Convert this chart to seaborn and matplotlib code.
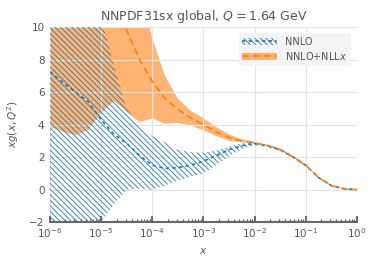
import numpy as np
import pandas as pd
import matplotlib
matplotlib.use("Agg")
import matplotlib.pyplot as plt
import matplotlib.ticker as mticker
import seaborn as sns
from matplotlib.patches import Patch
from matplotlib.lines import Line2D

# log10(x) grid at which the values were read
log_x = [-6, -5.75, -5.5, -5.25, -5, -4.75, -4.5, -4.25, -4, -3.75, -3.5, -3.25,
         -3, -2.75, -2.5, -2.25, -2, -1.75, -1.5, -1.25, -1, -0.75, -0.5, -0.25, 0]

nnlo_cv = [7.25, 6.6, 6.0, 5.4, 4.3, 3.4, 2.85, 2.1, 1.5, 1.3, 1.35, 1.5,
           1.75, 2.1, 2.45, 2.7, 2.84, 2.7, 2.45, 2.02, 1.5, 0.75, 0.25, 0.05, 0.0]
nnlo_hi = [16, 15, 14, 12.5, 10.6, 7.6, 5.0, 3.9, 3.3, 2.9, 2.45, 2.3,
           2.28, 2.4, 2.65, 2.85, 2.94, 2.78, 2.52, 2.07, 1.55, 0.8, 0.28, 0.07, 0.01]
nnlo_lo = [-5.5, -5.0, -4.2, -3.2, -2.0, -0.9, 0.0, 0.05, 0.0, 0.25, 0.55, 0.8,
           1.0, 1.5, 2.05, 2.5, 2.74, 2.62, 2.38, 1.97, 1.45, 0.7, 0.22, 0.03, -0.01]

nll_cv = [22, 20, 18, 16, 13.5, 11.5, 9.8, 8.0, 6.65, 5.6, 4.95, 4.4,
          4.0, 3.55, 3.2, 3.0, 2.88, 2.7, 2.47, 2.02, 1.5, 0.75, 0.25, 0.05, 0.0]
nll_hi = [30, 28, 26, 24, 22, 20, 17, 13, 9.3, 7.0, 5.6, 4.85,
          4.4, 3.85, 3.4, 3.1, 2.92, 2.74, 2.51, 2.06, 1.54, 0.79, 0.28, 0.07, 0.01]
nll_lo = [3.87, 3.56, 3.35, 3.66, 4.7, 5.45, 4.8, 4.15, 4.38, 4.05, 4.1, 3.95,
          3.65, 3.3, 3.0, 2.92, 2.84, 2.66, 2.43, 1.98, 1.46, 0.71, 0.22, 0.03, -0.01]

labels = ["NNLO", "NNLO+NLL$x$"]
title = "NNPDF31sx global, $Q = 1.64$ GeV"
xticks = [1e-6, 1e-5, 1e-4, 1e-3, 1e-2, 1e-1, 1]
yticks = [-2, 0, 2, 4, 6, 8, 10]

x = 10.0 ** np.array(log_x)
df = pd.concat([
    pd.DataFrame({"x": x, "xg": nnlo_cv, "fit": labels[0]}),
    pd.DataFrame({"x": x, "xg": nll_cv, "fit": labels[1]}),
])

sns.set_theme(style="whitegrid")
plt.rcParams["font.family"] = ["DejaVu Sans"]
plt.rcParams["axes.axisbelow"] = "line"
txt = "#555555"
blue = "#1f77b4"
orange = "#ff7f0e"
plt.rcParams["hatch.linewidth"] = 0.6
HATCH = chr(92) * 6

fig = plt.figure(figsize=(3.76, 2.66), dpi=100)
ax = fig.add_axes([0.133, 0.165, 0.816, 0.733])

ax.fill_between(x, nll_lo, nll_hi, color=orange, alpha=0.58, linewidth=0, zorder=1)
ax.fill_between(x, nnlo_lo, nnlo_hi, facecolor="none", edgecolor=blue,
                hatch=HATCH, linewidth=0, zorder=2)

sns.lineplot(data=df, x="x", y="xg", hue="fit", palette=[blue, orange],
             ax=ax, legend=False, linewidth=1.2, zorder=3)
ax.lines[0].set_linestyle((0, (2, 2)))
ax.lines[1].set_linestyle((0, (4, 2.5)))

ax.set_xscale("log")
ax.set_xlim(1e-6, 1)
ax.set_ylim(-2, 10)
ax.set_yticks(yticks)
ax.set_xticks(xticks)
minor = [m * d for d in xticks[:-1] for m in range(2, 10)]
ax.set_xticks(minor, minor=True)
ax.xaxis.set_minor_formatter(mticker.NullFormatter())

for s in ["left", "right", "top"]:
    ax.spines[s].set_visible(False)
ax.spines["bottom"].set_visible(True)
ax.spines["bottom"].set_color("#666666")
ax.spines["bottom"].set_linewidth(1.5)
ax.spines["bottom"].set_zorder(5)
ax.grid(True, which="major", color="#e3e3e3", linewidth=0.8, zorder=0)
ax.grid(False, which="minor")
ax.xaxis.set_tick_params(which="major", direction="in", length=4, width=1.2,
                         color="#555555", labelsize=7.5, labelcolor=txt, pad=3,
                         bottom=True, top=False)
ax.xaxis.set_tick_params(which="minor", direction="in", length=2.5, width=0.9,
                         color="#555555", bottom=True, top=False)
ax.tick_params(axis="y", labelsize=7.5, labelcolor=txt, length=0, pad=4)

ax.set_xlabel("$x$", fontsize=7.5, color=txt, labelpad=4)
ax.set_ylabel("$xg(x, Q^2)$", fontsize=7.5, color=txt, labelpad=6)
ax.set_title(title, fontsize=9, color=txt, pad=5)

h1 = (Patch(facecolor="none", edgecolor=blue, hatch=HATCH, linewidth=0),
      Line2D([], [], color=blue, linestyle=(0, (2, 2)), linewidth=1.2))
h2 = (Patch(facecolor=orange, alpha=0.58, linewidth=0),
      Line2D([], [], color=orange, linestyle=(0, (4, 2.5)), linewidth=1.2))
leg = ax.legend([h1, h2], labels, loc="upper right", fontsize=7, frameon=True,
                facecolor="#f4f4f4", edgecolor="none", framealpha=1,
                handlelength=3.6, borderaxespad=0.6, labelspacing=0.3)
leg.set_zorder(10)
for t in leg.get_texts():
    t.set_color(txt)

fig.savefig("out.png", dpi=100)
